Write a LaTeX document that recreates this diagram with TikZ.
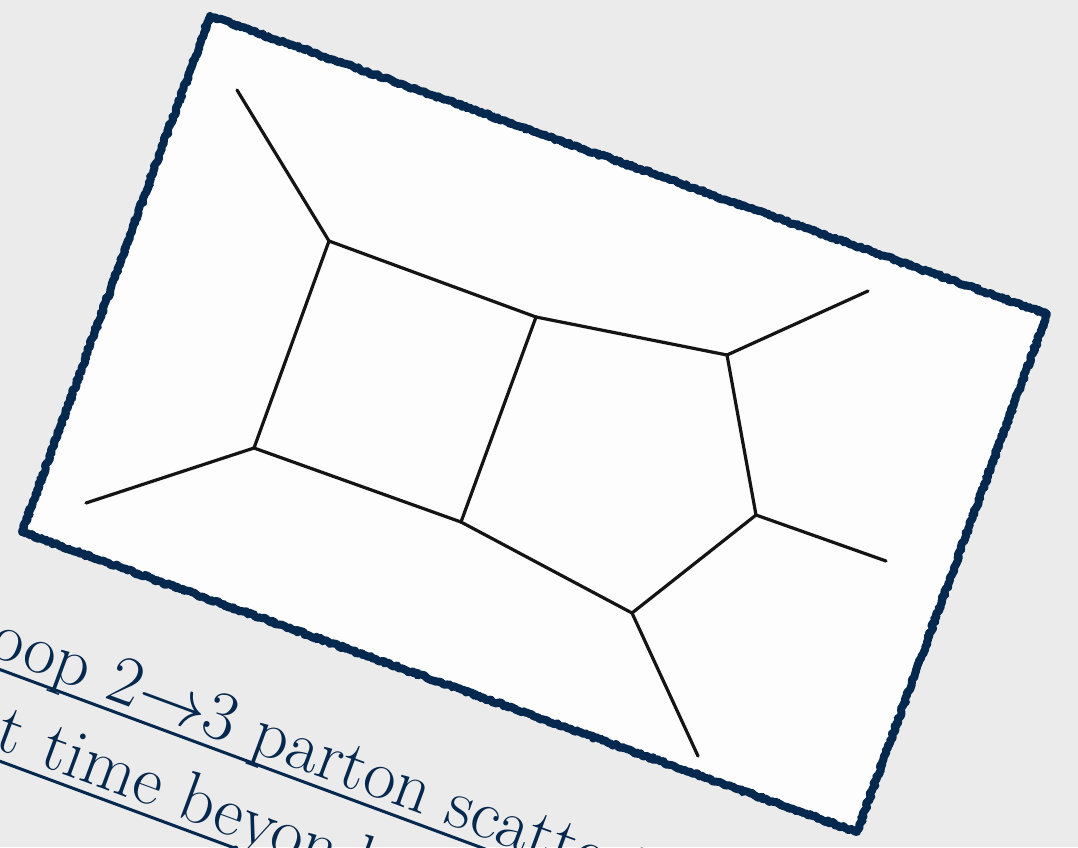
\RequirePackage{fix-cm}
\documentclass[tikz,border=0pt]{standalone}
\usetikzlibrary{decorations.pathmorphing}
\definecolor{bg}{HTML}{EBEBEB}
\definecolor{navy}{RGB}{4,40,78}
\definecolor{card}{HTML}{FDFDFD}
\begin{document}
\begin{tikzpicture}[x=1pt,y=1pt,
  edge/.style={line width=3.2pt, black!92, line cap=round},
  frame/.style={draw=navy, line width=8pt, line join=round, decorate,
    decoration={random steps, segment length=2pt, amplitude=1.3pt}},
  frame2/.style={draw=navy, line width=3pt, line join=round, decorate,
    decoration={random steps, segment length=1.5pt, amplitude=2.4pt}},
  title/.style={text=navy, font=\fontsize{70}{84}\selectfont, inner sep=0pt, transform shape},
  uline/.style={draw=navy, line width=3pt}]
\fill[bg] (0,0) rectangle (1078,-847);
\path[use as bounding box] (0,0) rectangle (1078,-847);
\clip (0,0) rectangle (1078,-847);
% card
\coordinate (c1) at (210,-16);
\coordinate (c2) at (1047,-314);
\coordinate (c3) at (857,-832);
\coordinate (c4) at (22,-532);
\fill[card] (c1) -- (c2) -- (c3) -- (c4) -- cycle;
\draw[frame] (c1) -- (c2) -- (c3) -- (c4) -- cycle;
\draw[frame2] (c1) -- (c2) -- (c3) -- (c4) -- cycle;
% graph
\coordinate (A) at (237,-90);
\coordinate (B) at (329,-241);
\coordinate (C) at (536,-317);
\coordinate (D) at (727,-355);
\coordinate (E) at (868,-291);
\coordinate (F) at (756,-515);
\coordinate (G) at (886,-561);
\coordinate (H) at (632,-613);
\coordinate (I) at (698,-756);
\coordinate (J) at (461,-522);
\coordinate (K) at (254,-448);
\coordinate (L) at (86,-503);
\draw[edge] (A) -- (B);
\draw[edge] (B) -- (C);
\draw[edge] (C) -- (D);
\draw[edge] (D) -- (E);
\draw[edge] (D) -- (F);
\draw[edge] (F) -- (G);
\draw[edge] (F) -- (H);
\draw[edge] (H) -- (I);
\draw[edge] (H) -- (J);
\draw[edge] (J) -- (K);
\draw[edge] (K) -- (L);
\draw[edge] (K) -- (B);
\draw[edge] (C) -- (J);
% title
\begin{scope}[shift={(103,-697)}, rotate=-20.3]
\node[title, anchor=base west] (t1b) at (0,0) {2$\rightarrow$3 parton scattering};
\node[title, anchor=base east] (t1a) at (-21,0) {Two-loop};
\node[title, anchor=base west] (t2b) at (-38,-86) {time beyond the};
\node[title, anchor=base east] (t2a) at (-61,-86) {first};
\path (t1a.base west) ++(0,-10) coordinate (u1s);
\path (t1b.base east) ++(0,-10) coordinate (u1e);
\path (t2a.base west) ++(0,-10) coordinate (u2s);
\path (t2b.base east) ++(0,-10) coordinate (u2e);
\draw[uline] (u1s) -- (u1e);
\draw[uline] (u2s) -- (u2e);
\end{scope}
\end{tikzpicture}
\end{document}
